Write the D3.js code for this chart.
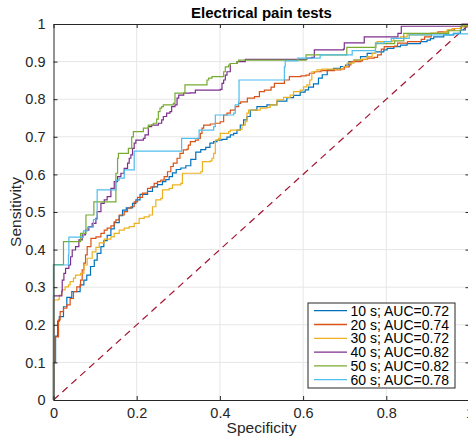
<!DOCTYPE html>
<html>
<head>
<meta charset="utf-8">
<script src="https://cdn.jsdelivr.net/npm/d3@7"></script>
<style>
  html, body { margin: 0; padding: 0; background: #fff; }
  svg { display: block; font-family: "Liberation Sans", Arial, Helvetica, sans-serif; }
</style>
</head>
<body>
<svg id="chart" width="468" height="439"></svg>
<script>
// ROC curves, one per stimulus duration: [1 - specificity, sensitivity] pairs
const roc10 = [[0,0],[0,0.10],[0.005,0.17],[0.010,0.21],[0.014,0.222],[0.024,0.248],[0.032,0.273],[0.044,0.288],[0.064,0.306],[0.073,0.319],[0.080,0.332],[0.089,0.355],[0.098,0.372],[0.105,0.390],[0.114,0.408],[0.121,0.424],[0.129,0.438],[0.138,0.455],[0.146,0.472],[0.158,0.490],[0.166,0.505],[0.175,0.511],[0.190,0.523],[0.198,0.532],[0.208,0.547],[0.226,0.555],[0.238,0.567],[0.250,0.573],[0.262,0.581],[0.270,0.586],[0.278,0.594],[0.286,0.604],[0.295,0.613],[0.306,0.617],[0.318,0.623],[0.330,0.640],[0.342,0.659],[0.354,0.666],[0.366,0.672],[0.376,0.683],[0.385,0.687],[0.393,0.691],[0.405,0.693],[0.417,0.699],[0.425,0.705],[0.433,0.709],[0.441,0.718],[0.449,0.731],[0.457,0.745],[0.465,0.754],[0.473,0.771],[0.489,0.780],[0.513,0.785],[0.537,0.795],[0.561,0.804],[0.577,0.810],[0.593,0.819],[0.605,0.825],[0.613,0.832],[0.625,0.841],[0.637,0.856],[0.646,0.865],[0.658,0.878],[0.673,0.882],[0.690,0.887],[0.702,0.891],[0.710,0.900],[0.722,0.904],[0.738,0.913],[0.754,0.922],[0.774,0.926],[0.794,0.931],[0.802,0.935],[0.818,0.940],[0.834,0.944],[0.850,0.948],[0.882,0.953],[0.898,0.957],[0.906,0.961],[0.914,0.966],[0.938,0.971],[0.962,0.975],[0.978,0.984],[0.990,0.993],[1,1]];
const roc20 = [[0,0],[0,0.10],[0.004,0.168],[0.012,0.213],[0.016,0.235],[0.024,0.244],[0.032,0.253],[0.040,0.270],[0.048,0.288],[0.056,0.301],[0.065,0.319],[0.069,0.346],[0.073,0.364],[0.077,0.386],[0.081,0.408],[0.090,0.430],[0.102,0.434],[0.114,0.443],[0.122,0.452],[0.129,0.457],[0.138,0.463],[0.146,0.474],[0.150,0.479],[0.158,0.492],[0.170,0.501],[0.178,0.510],[0.186,0.514],[0.194,0.527],[0.202,0.539],[0.214,0.550],[0.226,0.563],[0.234,0.567],[0.242,0.576],[0.250,0.581],[0.258,0.585],[0.266,0.594],[0.274,0.607],[0.282,0.621],[0.288,0.630],[0.297,0.643],[0.304,0.656],[0.312,0.665],[0.321,0.667],[0.324,0.678],[0.329,0.687],[0.341,0.691],[0.348,0.696],[0.353,0.709],[0.357,0.723],[0.361,0.731],[0.377,0.734],[0.389,0.736],[0.401,0.740],[0.409,0.758],[0.417,0.763],[0.425,0.771],[0.437,0.780],[0.445,0.789],[0.450,0.793],[0.466,0.803],[0.483,0.807],[0.495,0.820],[0.507,0.824],[0.523,0.832],[0.531,0.842],[0.555,0.851],[0.567,0.860],[0.595,0.862],[0.607,0.864],[0.615,0.869],[0.627,0.873],[0.643,0.876],[0.675,0.878],[0.691,0.880],[0.699,0.886],[0.711,0.891],[0.715,0.900],[0.739,0.902],[0.743,0.906],[0.755,0.909],[0.771,0.911],[0.779,0.918],[0.788,0.933],[0.795,0.940],[0.820,0.941],[0.827,0.949],[0.851,0.953],[0.884,0.959],[0.892,0.966],[0.908,0.975],[0.924,0.979],[0.948,0.984],[0.964,0.988],[0.980,0.993],[0.996,0.997],[1,1]];
const roc30 = [[0,0],[0,0.266],[0.012,0.268],[0.014,0.279],[0.020,0.293],[0.028,0.301],[0.036,0.306],[0.040,0.315],[0.048,0.324],[0.053,0.332],[0.065,0.337],[0.073,0.359],[0.081,0.377],[0.093,0.394],[0.102,0.406],[0.110,0.418],[0.122,0.428],[0.138,0.434],[0.146,0.443],[0.158,0.452],[0.170,0.457],[0.182,0.461],[0.194,0.470],[0.206,0.483],[0.218,0.487],[0.230,0.492],[0.238,0.514],[0.246,0.532],[0.258,0.536],[0.262,0.559],[0.278,0.563],[0.286,0.572],[0.306,0.576],[0.310,0.603],[0.354,0.607],[0.358,0.634],[0.377,0.636],[0.381,0.643],[0.385,0.656],[0.389,0.691],[0.397,0.696],[0.401,0.709],[0.421,0.714],[0.425,0.718],[0.449,0.720],[0.453,0.731],[0.461,0.740],[0.465,0.763],[0.469,0.771],[0.497,0.776],[0.513,0.778],[0.521,0.785],[0.537,0.798],[0.553,0.805],[0.569,0.811],[0.577,0.820],[0.593,0.824],[0.601,0.833],[0.609,0.838],[0.616,0.851],[0.621,0.873],[0.633,0.878],[0.645,0.880],[0.697,0.887],[0.706,0.896],[0.722,0.904],[0.738,0.906],[0.754,0.913],[0.766,0.922],[0.774,0.950],[0.778,0.953],[0.814,0.955],[0.818,0.962],[0.834,0.966],[0.850,0.971],[0.906,0.975],[0.938,0.979],[0.946,0.984],[0.958,0.988],[0.978,0.993],[0.986,0.997],[1,1]];
const roc40 = [[0,0],[0,0.277],[0.012,0.277],[0.020,0.288],[0.021,0.319],[0.025,0.337],[0.029,0.350],[0.037,0.359],[0.041,0.381],[0.045,0.399],[0.053,0.408],[0.061,0.426],[0.069,0.439],[0.077,0.452],[0.085,0.461],[0.093,0.470],[0.102,0.483],[0.105,0.501],[0.114,0.523],[0.122,0.532],[0.129,0.541],[0.138,0.563],[0.146,0.581],[0.154,0.594],[0.162,0.603],[0.170,0.616],[0.178,0.630],[0.182,0.643],[0.186,0.652],[0.190,0.669],[0.194,0.683],[0.198,0.691],[0.216,0.696],[0.220,0.705],[0.228,0.727],[0.236,0.731],[0.252,0.736],[0.260,0.745],[0.264,0.754],[0.272,0.763],[0.280,0.767],[0.284,0.780],[0.292,0.785],[0.297,0.803],[0.301,0.811],[0.313,0.816],[0.329,0.817],[0.341,0.824],[0.401,0.826],[0.405,0.842],[0.409,0.851],[0.413,0.864],[0.417,0.873],[0.425,0.895],[0.441,0.900],[0.457,0.900],[0.461,0.906],[0.603,0.906],[0.609,0.909],[0.621,0.911],[0.627,0.931],[0.697,0.933],[0.699,0.950],[0.747,0.951],[0.747,0.966],[0.824,0.966],[0.828,0.975],[0.836,0.975],[0.836,0.994],[0.980,0.994],[0.982,1],[1,1]];
const roc50 = [[0,0],[0,0.36],[0.024,0.421],[0.065,0.443],[0.078,0.492],[0.097,0.527],[0.150,0.603],[0.154,0.643],[0.156,0.656],[0.180,0.669],[0.188,0.700],[0.192,0.714],[0.216,0.723],[0.228,0.731],[0.240,0.736],[0.248,0.747],[0.252,0.767],[0.256,0.776],[0.260,0.780],[0.264,0.785],[0.288,0.789],[0.292,0.816],[0.316,0.838],[0.369,0.851],[0.373,0.856],[0.381,0.860],[0.409,0.873],[0.413,0.886],[0.421,0.891],[0.425,0.895],[0.441,0.900],[0.445,0.904],[0.607,0.918],[0.705,0.938],[0.775,0.948],[0.820,0.955],[0.842,0.975],[0.950,0.982],[0.980,0.995],[1,1]];
const roc60 = [[0,0],[0,0.359],[0.036,0.386],[0.037,0.433],[0.062,0.433],[0.072,0.450],[0.082,0.460],[0.096,0.480],[0.105,0.559],[0.150,0.585],[0.158,0.590],[0.170,0.612],[0.194,0.662],[0.308,0.696],[0.350,0.718],[0.385,0.727],[0.389,0.758],[0.433,0.763],[0.437,0.785],[0.445,0.793],[0.446,0.851],[0.555,0.886],[0.557,0.902],[0.587,0.909],[0.641,0.918],[0.718,0.929],[0.774,0.949],[0.795,0.953],[0.812,0.962],[0.855,0.971],[0.960,0.974],[1,1]];

const seriesNames = ["10 s; AUC=0.72", "20 s; AUC=0.74", "30 s; AUC=0.72", "40 s; AUC=0.82", "50 s; AUC=0.82", "60 s; AUC=0.78"];
const seriesColors = ["#0072BD", "#D95319", "#EDB120", "#7E2F8E", "#77AC30", "#4DBEEE"];
const chanceLine = [[0, 0], [1, 1]];
const xTicks = [0, 0.2, 0.4, 0.6, 0.8, 1];
const yTicks = [0, 0.1, 0.2, 0.3, 0.4, 0.5, 0.6, 0.7, 0.8, 0.9, 1];

const curves = [roc10, roc20, roc30, roc40, roc50, roc60];

const svg = d3.select("#chart");
const W = 468, H = 439;
const plotLeft = 53.5, plotRight = 469.5, plotTop = 24, plotBottom = 400;

svg.append("rect").attr("width", W).attr("height", H).attr("fill", "#fff");

const x = d3.scaleLinear().domain([0, 1]).range([plotLeft, plotRight]);
const y = d3.scaleLinear().domain([0, 1]).range([plotBottom, plotTop]);

// grid
const grid = svg.append("g");
grid.selectAll("line.gx").data(xTicks.filter(t => t > 0 && t < 1)).join("line")
  .attr("x1", d => x(d)).attr("x2", d => x(d)).attr("y1", plotTop).attr("y2", plotBottom)
  .attr("stroke", "#e6e6e6").attr("stroke-width", 1);
grid.selectAll("line.gy").data(yTicks.filter(t => t > 0 && t < 1)).join("line")
  .attr("x1", plotLeft).attr("x2", plotRight).attr("y1", d => y(d)).attr("y2", d => y(d))
  .attr("stroke", "#e6e6e6").attr("stroke-width", 1);

// chance diagonal
const line = d3.line().x(d => x(d[0])).y(d => y(d[1]));
svg.append("path").datum(chanceLine).attr("d", line)
  .attr("fill", "none").attr("stroke", "#A2142F").attr("stroke-width", 1.2)
  .attr("stroke-dasharray", "7,5");

// ROC staircases
const stepLine = d3.line().x(d => x(d[0])).y(d => y(d[1])).curve(d3.curveStepAfter);
curves.forEach((c, i) => {
  svg.append("path").datum(c).attr("d", stepLine)
    .attr("fill", "none").attr("stroke", seriesColors[i]).attr("stroke-width", 1.2);
});

// axes (box with inward ticks)
const axisColor = "#262626";
const tickLen = 4;
const xAxis = d3.axisBottom(x).tickValues(xTicks).tickSizeInner(-tickLen).tickSizeOuter(0).tickPadding(8).tickFormat(d3.format("~g"));
const yAxis = d3.axisLeft(y).tickValues(yTicks).tickSizeInner(-tickLen).tickSizeOuter(0).tickPadding(8).tickFormat(d3.format("~g"));
const xAxisTop = d3.axisTop(x).tickValues(xTicks).tickSizeInner(-tickLen).tickSizeOuter(0).tickFormat("");
const yAxisRight = d3.axisRight(y).tickValues(yTicks).tickSizeInner(-tickLen).tickSizeOuter(0).tickFormat("");

function styleAxis(g) {
  g.select(".domain").attr("stroke", axisColor).attr("stroke-width", 1);
  g.selectAll(".tick line").attr("stroke", axisColor).attr("stroke-width", 1);
  g.selectAll(".tick text").attr("fill", axisColor).attr("font-size", 14.5)
    .attr("font-family", "'Liberation Sans', Arial, Helvetica, sans-serif");
}
svg.append("g").attr("transform", `translate(0,${plotBottom})`).call(xAxis).call(styleAxis);
svg.append("g").attr("transform", `translate(${plotLeft},0)`).call(yAxis).call(styleAxis);
svg.append("g").attr("transform", `translate(0,${plotTop})`).call(xAxisTop).call(styleAxis);
svg.append("g").attr("transform", `translate(${plotRight},0)`).call(yAxisRight).call(styleAxis);

// title and axis labels
svg.append("text").attr("x", (plotLeft + plotRight) / 2).attr("y", 18).attr("text-anchor", "middle")
  .attr("font-size", 15).attr("font-weight", "bold").attr("fill", "#000").text("Electrical pain tests");
svg.append("text").attr("x", (plotLeft + plotRight) / 2).attr("y", 433).attr("text-anchor", "middle")
  .attr("font-size", 15.5).attr("fill", axisColor).text("Specificity");
svg.append("text").attr("transform", `translate(21,${(plotTop + plotBottom) / 2}) rotate(-90)`)
  .attr("text-anchor", "middle").attr("font-size", 15.5).attr("fill", axisColor).text("Sensitivity");

// legend
const lg = svg.append("g");
const lgX = 308, lgY = 303, lgW = 147, lgH = 85, rowH = 13.8, row0 = 310.7;
lg.append("rect").attr("x", lgX).attr("y", lgY).attr("width", lgW).attr("height", lgH)
  .attr("fill", "#fff").attr("stroke", axisColor).attr("stroke-width", 1);
seriesNames.forEach((name, i) => {
  const cy = row0 + i * rowH;
  lg.append("line").attr("x1", 314).attr("x2", 347).attr("y1", cy).attr("y2", cy)
    .attr("stroke", seriesColors[i]).attr("stroke-width", 1.3);
  lg.append("text").attr("x", 350.5).attr("y", cy + 5).attr("font-size", 14)
    .attr("fill", "#000").text(name);
});
</script>
</body>
</html>
